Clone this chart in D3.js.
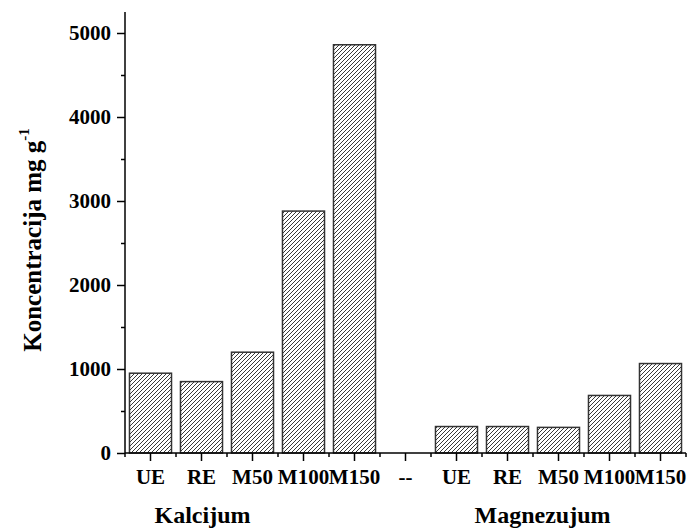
<!DOCTYPE html>
<html>
<head>
<meta charset="utf-8">
<script src="https://cdn.jsdelivr.net/npm/d3@7"></script>
<style>
  html, body { margin: 0; padding: 0; background: #fff; }
  svg text { font-family: "Liberation Serif", "Times New Roman", serif; font-weight: bold; fill: #000; }
</style>
</head>
<body>
<svg id="chart" width="688" height="531"></svg>
<script>
// Category labels along the x axis ("--" separates the two element groups)
const categories = ["UE", "RE", "M50", "M100", "M150", "--", "UE", "RE", "M50", "M100", "M150"];
// Calcium and magnesium concentrations (mg g-1) per treatment
const calciumValues = [950, 850, 1200, 2880, 4860];
const magnesiumValues = [315, 315, 305, 685, 1065];
// Group captions under the axis
const groupLabels = ["Kalcijum", "Magnezujum"];
const yTickValues = [0, 1000, 2000, 3000, 4000, 5000];
const yMinorTickValues = [500, 1500, 2500, 3500, 4500];

// one value per category slot; the separator slot has no bar
const values = [...calciumValues, null, ...magnesiumValues];

const svg = d3.select("#chart");
const plotLeft = 125, plotRight = 686, plotTop = 12, plotBottom = 453;

const x = d3.scaleBand()
  .domain(d3.range(categories.length))
  .range([plotLeft, plotRight])
  .paddingInner(0.176)
  .paddingOuter(0.088);

const y = d3.scaleLinear().domain([0, 5250]).range([plotBottom, plotTop]);

// diagonal hatch fill for the bars
const defs = svg.append("defs");
const pat = defs.append("pattern")
  .attr("id", "hatch")
  .attr("patternUnits", "userSpaceOnUse")
  .attr("width", 4).attr("height", 4);
pat.append("rect").attr("width", 4).attr("height", 4).attr("fill", "#fff");
pat.append("path")
  .attr("d", "M-1,1 L1,-1 M0,4 L4,0 M3,5 L5,3")
  .attr("stroke", "#222").attr("stroke-width", 0.9);

// bars
svg.append("g")
  .selectAll("rect")
  .data(values.map((v, i) => ({ v, i })).filter(d => d.v !== null))
  .join("rect")
  .attr("x", d => x(d.i))
  .attr("y", d => y(d.v))
  .attr("width", x.bandwidth())
  .attr("height", d => y(0) - y(d.v))
  .attr("fill", "url(#hatch)")
  .attr("stroke", "#333")
  .attr("stroke-width", 1.5);

// y axis
const yAxis = svg.append("g").attr("transform", `translate(${plotLeft},0)`);
yAxis.call(d3.axisLeft(y).tickValues(yTickValues).tickSize(8).tickPadding(6).tickFormat(d3.format("d")));
yAxis.append("g").call(d3.axisLeft(y).tickValues(yMinorTickValues).tickSize(4).tickFormat(""));
yAxis.selectAll(".domain").remove();
yAxis.append("line").attr("x1", 0).attr("x2", 0).attr("y1", plotTop).attr("y2", plotBottom)
  .attr("stroke", "#000").attr("stroke-width", 1.5);
yAxis.selectAll(".tick line").attr("stroke", "#000").attr("stroke-width", 1.5);
yAxis.selectAll(".tick text")
  .attr("font-size", 21)
  .attr("font-family", "Liberation Serif")
  .attr("font-weight", "bold")
  .attr("fill", "#000");

// x axis: major ticks at bar centres, minor ticks at slot boundaries
const xAxis = svg.append("g").attr("transform", `translate(0,${plotBottom})`);
xAxis.append("line").attr("x1", plotLeft).attr("x2", plotRight).attr("y1", 0).attr("y2", 0)
  .attr("stroke", "#000").attr("stroke-width", 1.5);
const boundaries = d3.range(categories.length + 1).map(i => plotLeft + i * x.step());
xAxis.selectAll("line.minor").data(boundaries).join("line")
  .attr("class", "minor")
  .attr("x1", d => d).attr("x2", d => d).attr("y1", 0).attr("y2", 4)
  .attr("stroke", "#000").attr("stroke-width", 1.5);
xAxis.selectAll("line.major").data(d3.range(categories.length)).join("line")
  .attr("class", "major")
  .attr("x1", i => x(i) + x.bandwidth() / 2).attr("x2", i => x(i) + x.bandwidth() / 2)
  .attr("y1", 0).attr("y2", 8)
  .attr("stroke", "#000").attr("stroke-width", 1.5);
xAxis.selectAll("text.cat").data(categories).join("text")
  .attr("class", "cat")
  .attr("x", (d, i) => x(i) + x.bandwidth() / 2)
  .attr("y", 31)
  .attr("text-anchor", "middle")
  .attr("font-size", 21)
  .text(d => d);

// group captions
const groupX = [
  x(2) + x.bandwidth() / 2 - 50,
  x(8) + x.bandwidth() / 2 - 16
];
svg.selectAll("text.group").data(groupLabels).join("text")
  .attr("class", "group")
  .attr("x", (d, i) => groupX[i])
  .attr("y", 523)
  .attr("text-anchor", "middle")
  .attr("font-size", 24)
  .text(d => d);

// y axis title
const yTitle = svg.append("text")
  .attr("transform", "translate(41,240) rotate(-90)")
  .attr("text-anchor", "middle")
  .attr("font-size", 25);
yTitle.append("tspan").text("Koncentracija mg g");
yTitle.append("tspan").attr("font-size", 15).attr("dy", -12).text("-1");
</script>
</body>
</html>
